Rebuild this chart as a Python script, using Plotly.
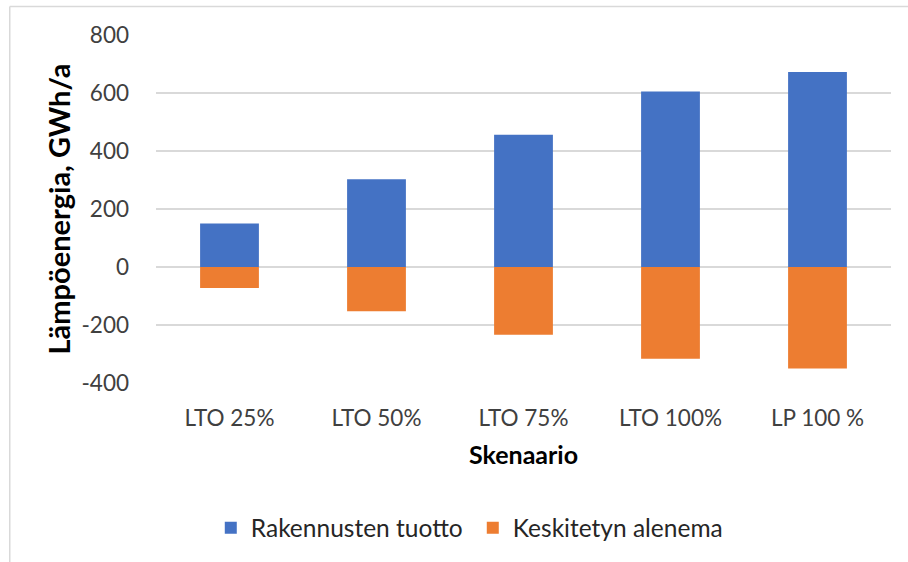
import plotly.graph_objects as go

# Scenario categories and annual heat-energy figures (GWh/a)
scenarios = ["LTO 25%", "LTO 50%", "LTO 75%", "LTO 100%", "LP 100 %"]
rakennusten_tuotto = [150, 303, 456, 605, 672]
keskitetyn_alenema = [-72, -153, -234, -316, -350]

series_names = ["Rakennusten tuotto", "Keskitetyn alenema"]
y_ticks = [-400, -200, 0, 200, 400, 600, 800]

BLUE = "#4472C4"
ORANGE = "#ED7D31"
GRID = "#D9D9D9"
FONT = "Lato"

fig = go.Figure()
fig.add_trace(go.Bar(x=scenarios, y=rakennusten_tuotto, name=series_names[0],
                     marker=dict(color=BLUE, line=dict(width=0))))
fig.add_trace(go.Bar(x=scenarios, y=keskitetyn_alenema, name=series_names[1],
                     marker=dict(color=ORANGE, line=dict(width=0))))

fig.update_layout(
    width=908, height=562,
    barmode="relative",
    bargap=0.6,
    plot_bgcolor="white", paper_bgcolor="white",
    margin=dict(l=156, r=17, t=35, b=179),
    font=dict(family=FONT, size=22, color="#404040"),
    showlegend=True,
    legend=dict(orientation="h", x=0.431, xanchor="center", y=-0.416, yanchor="middle",
                font=dict(family=FONT, size=24.5, color="#262626"),
                itemwidth=30, traceorder="normal", entrywidth=217),
    xaxis=dict(
        showgrid=False, showline=False, zeroline=False, ticks="",
        ticklabelstandoff=19,
        tickfont=dict(family=FONT, size=22.5, color="#404040"),
        title=dict(text="<b>Skenaario</b>", font=dict(family=FONT, size=25, color="#000000"),
                   standoff=16),
    ),
    yaxis=dict(
        range=[-400, 800], tickvals=y_ticks, ticktext=[str(v) for v in y_ticks],
        showgrid=True, gridcolor=GRID, gridwidth=1.5,
        zeroline=True, zerolinecolor=GRID, zerolinewidth=1.5, showline=False, ticks="",
        ticklabelstandoff=26,
        tickfont=dict(family=FONT, size=22.5, color="#404040"),
        title=dict(text="<b>Lämpöenergia, GWh/a</b>",
                   font=dict(family=FONT, size=29, color="#000000"), standoff=2),
    ),
    shapes=[
        # outer chart-area frame (left and top edges)
        dict(type="line", xref="paper", yref="paper", x0=-0.199, x1=-0.199, y0=1.082, y1=-0.52,
             line=dict(color="#D9D9D9", width=1.5)),
        dict(type="line", xref="paper", yref="paper", x0=-0.199, x1=1.03, y0=1.082, y1=1.082,
             line=dict(color="#D9D9D9", width=1.5)),
    ],
)

fig.write_html("out.html")
